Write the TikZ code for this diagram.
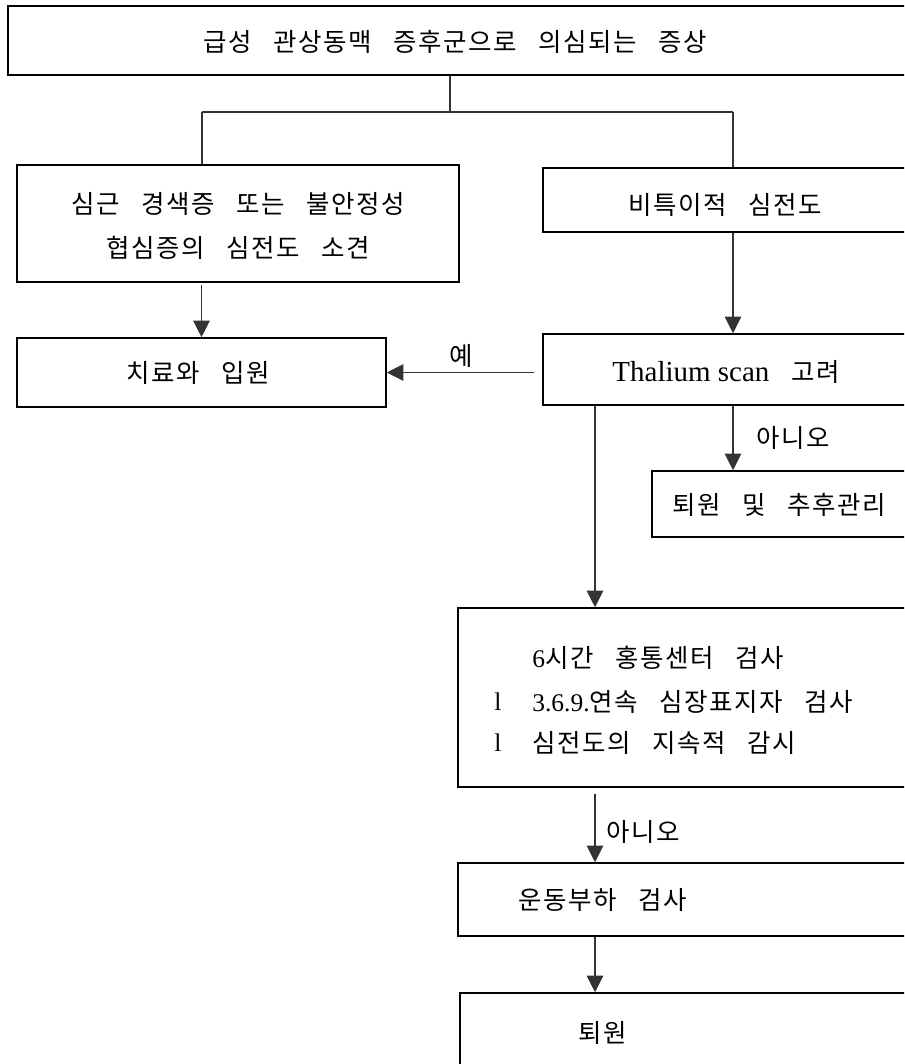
\documentclass[tikz,border=0pt]{standalone}
\usepackage{fontspec}
\setmainfont{Noto Sans CJK KR}[WordSpace=3,LetterSpace=6]
\newfontfamily\latin{Liberation Serif}
\usetikzlibrary{arrows.meta,fit}

\begin{document}
\begin{tikzpicture}[x=0.02cm,y=-0.02cm,
  box/.style={draw=black, line width=0.9pt, inner sep=0pt},
  conn/.style={draw=black!80, line width=0.6pt},
  arr/.style={conn, -{Triangle[length=9.5pt,width=9.5pt]}},
  txt/.style={inner sep=0pt, font=\fontsize{14.5}{17}\selectfont},
  twoline/.style={txt, align=center, font=\fontsize{14.5}{25.5}\selectfont},
  num/.style={font=\latin\fontsize{14.5}{17}\selectfont}]

\useasboundingbox (0,0) rectangle (904,1064);
\clip (0,0) rectangle (904,1064);

% boxes
\node[box, fit={(8,6) (912,75)}] (top) {};
\node[box, fit={(17,165) (459,282)}] (lbox) {};
\node[box, fit={(543,168) (907,232)}] (rbox) {};
\node[box, fit={(17,338) (386,407)}] (treat) {};
\node[box, fit={(543,334) (909,405)}] (thal) {};
\node[box, fit={(652,471) (906,537)}] (ret) {};
\node[box, fit={(458,608) (910,787)}] (obs) {};
\node[box, fit={(458,863) (910,936)}] (ex) {};
\node[box, fit={(460,993) (910,1080)}] (dis) {};

% box texts
\node[txt] (ttop) at (455,42) {급성 관상동맥 증후군으로 의심되는 증상};
\node[twoline] (tlbox) at (238,226) {심근 경색증 또는 불안정성\\협심증의 심전도 소견};
\node[txt] (trbox) at (725,205) {비특이적 심전도};
\node[txt] (ttreat) at (198,373) {치료와 입원};
\node[txt] (tthal) at (726,372) {{\latin\fontsize{16.5}{20}\selectfont Thalium scan} 고려};
\node[txt] (tret) at (779,505) {퇴원 및 추후관리};
\node[txt, anchor=west] (tobs1) at (532,658) {{\latin 6}시간 홍통센터 검사};
\node[txt, anchor=west] (tobs2) at (532,702) {{\latin 3.6.9.}연속 심장표지자 검사};
\node[txt, anchor=west] (tobs3) at (532,743) {심전도의 지속적 감시};
\node[txt, num] (bul1) at (498,702) {l};
\node[txt, num] (bul2) at (498,743) {l};
\node[txt] (tex) at (603,900) {운동부하 검사};
\node[txt] (tdis) at (603,1033) {퇴원};

% branch points
\coordinate (split) at (450,112);
\coordinate (jl) at (202,112);
\coordinate (jr) at (733,112);
\coordinate (col) at (595,0);

% connectors
\draw[conn] (top.south -| split) -- (split);
\draw[conn] (jl) -- (jr);
\draw[conn] (jl) -- (jl |- lbox.north);
\draw[conn] (jr) -- (jr |- rbox.north);
\draw[arr, shorten <=1.5pt] (lbox.south -| treat.north) -- (treat.north);
\draw[arr] (rbox.south -| jr) -- (thal.north -| jr);
\draw[arr, shorten <=4.5pt] (thal.west |- treat.east) -- (treat.east);
\draw[arr] (thal.south -| jr) -- (ret.north -| jr);
\draw[arr] (thal.south -| col) -- (obs.north -| col);
\draw[arr, shorten <=3.4pt] (obs.south -| col) -- (ex.north -| col);
\draw[arr] (ex.south -| col) -- (dis.north -| col);

% connector labels
\node[txt] (yes) at (461,356) {예};
\node[txt] (no1) at (793,438) {아니오};
\node[txt] (no2) at (643,832) {아니오};
\end{tikzpicture}
\end{document}
